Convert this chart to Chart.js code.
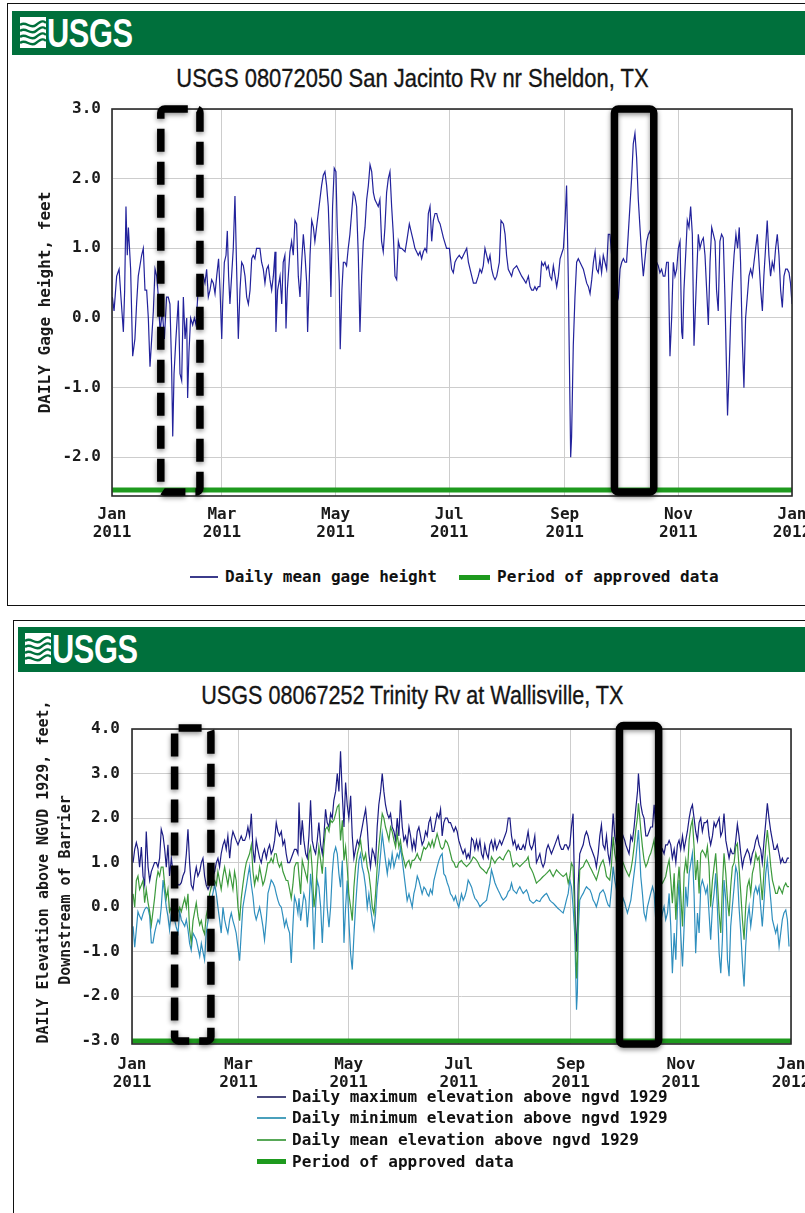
<!DOCTYPE html>
<html><head><meta charset="utf-8">
<script src="https://cdn.jsdelivr.net/npm/chart.js@4.4.0/dist/chart.umd.min.js"></script>
<style>
html,body{margin:0;padding:0;background:#fff}
body{width:805px;height:1213px;position:relative;overflow:hidden}
.frame{position:absolute;border:1.5px solid #111;box-sizing:border-box}
.hdr{position:absolute;background:#00703c}
.logo{position:absolute;height:40px;white-space:nowrap}
.logo .txt{position:absolute;left:27px;top:0;font:bold 40px/40px "Liberation Sans",Arial,sans-serif;color:#fff;transform:scaleX(0.77);transform-origin:0 0;letter-spacing:-0.5px}
.title{position:absolute;left:0;width:825px;text-align:center;font:26px/30px "Liberation Sans",Arial,sans-serif;color:#151515;-webkit-text-stroke:0.35px #151515}
.title span{display:inline-block;transform:scaleX(0.845)}
.cw{position:absolute;left:0}
.leg{position:absolute;font:bold 16px/20px "DejaVu Sans Mono",monospace;color:#111;white-space:pre}
.sw{position:absolute}
.ytl{position:absolute;width:420px;height:20px;text-align:center;font:bold 15px/20px "DejaVu Sans Mono",monospace;color:#1a1a1a;transform:rotate(-90deg);white-space:pre}
</style></head>
<body>
<div class="frame" style="left:7px;top:3px;width:820px;height:603px"></div>
<div class="hdr" style="left:12px;top:11px;width:800px;height:44px"></div>
<div class="logo" style="left:20px;top:13px">
 <svg width="26" height="34" viewBox="0 0 26 34" style="position:absolute;left:0;top:4px">
  <rect x="0" y="0" width="26" height="31" fill="#fff"/>
  <path d="M0 8 C6 3,10 13,16 8 S24 4,26 6" stroke="#00703c" stroke-width="2.4" fill="none"/>
  <path d="M0 14 C6 9,10 19,16 14 S24 10,26 12" stroke="#00703c" stroke-width="2.4" fill="none"/>
  <path d="M0 20 C6 15,10 25,16 20 S24 16,26 18" stroke="#00703c" stroke-width="2.4" fill="none"/>
  <path d="M0 26 C6 21,10 31,16 26 S24 22,26 24" stroke="#00703c" stroke-width="2.4" fill="none"/>
 </svg>
 <div class="txt">USGS</div>
</div>
<div class="title" style="top:63px"><span>USGS 08072050 San Jacinto Rv nr Sheldon, TX</span></div>
<div class="cw" style="top:100px"><canvas id="c1" width="805" height="455"></canvas></div>
<div class="sw" style="left:190px;top:576px;width:28px;height:1.5px;background:#3b3b8b"></div>
<div class="leg" style="left:225px;top:567px">Daily mean gage height</div>
<div class="sw" style="left:459px;top:575px;width:31px;height:5px;background:#1e9a1e"></div>
<div class="leg" style="left:497px;top:567px">Period of approved data</div>

<div class="frame" style="left:13px;top:620px;width:820px;height:620px"></div>
<div class="hdr" style="left:18px;top:627px;width:800px;height:45px"></div>
<div class="logo" style="left:25px;top:629px">
 <svg width="26" height="34" viewBox="0 0 26 34" style="position:absolute;left:0;top:4px">
  <rect x="0" y="0" width="26" height="31" fill="#fff"/>
  <path d="M0 8 C6 3,10 13,16 8 S24 4,26 6" stroke="#00703c" stroke-width="2.4" fill="none"/>
  <path d="M0 14 C6 9,10 19,16 14 S24 10,26 12" stroke="#00703c" stroke-width="2.4" fill="none"/>
  <path d="M0 20 C6 15,10 25,16 20 S24 16,26 18" stroke="#00703c" stroke-width="2.4" fill="none"/>
  <path d="M0 26 C6 21,10 31,16 26 S24 22,26 24" stroke="#00703c" stroke-width="2.4" fill="none"/>
 </svg>
 <div class="txt">USGS</div>
</div>
<div class="title" style="top:680px"><span style="transform:scaleX(0.83)">USGS 08067252 Trinity Rv at Wallisville, TX</span></div>
<div class="cw" style="top:720px"><canvas id="c2" width="805" height="390"></canvas></div>
<div class="ytl" style="left:-167px;top:862px">DAILY Elevation above NGVD 1929, feet,</div>
<div class="ytl" style="left:-145px;top:880px">Downstream of Barrier</div>
<div class="sw" style="left:257px;top:1096px;width:29px;height:1.5px;background:#4a4a7e"></div>
<div class="leg" style="left:292px;top:1087px">Daily maximum elevation above ngvd 1929</div>
<div class="sw" style="left:257px;top:1117px;width:29px;height:1.5px;background:#4aa0bc"></div>
<div class="leg" style="left:292px;top:1108px">Daily minimum elevation above ngvd 1929</div>
<div class="sw" style="left:257px;top:1139px;width:29px;height:1.5px;background:#58a858"></div>
<div class="leg" style="left:292px;top:1130px">Daily mean elevation above ngvd 1929</div>
<div class="sw" style="left:257px;top:1159px;width:29px;height:5px;background:#1e9a1e"></div>
<div class="leg" style="left:292px;top:1152px">Period of approved data</div>

<script>
// ---------- shared axis data ----------
const monthTicks = [0, 59, 120, 181, 243, 304, 365];
const monthNames = ['Jan', 'Mar', 'May', 'Jul', 'Sep', 'Nov', 'Jan'];
const tickYears  = ['2011', '2011', '2011', '2011', '2011', '2011', '2012'];
const yTicks1 = [-2, -1, 0, 1, 2, 3];
const yTicks2 = [-3, -2, -1, 0, 1, 2, 3, 4];

// ---------- chart 1: San Jacinto daily mean gage height (day of 2011, feet) ----------
const days1 = [0.2,1.1,2.5,3.8,4.8,6.1,6.8,7.5,8.2,8.8,10.0,11.1,12.3,13.2,14.1,15.0,15.9,16.8,17.7,18.6,19.5,20.4,21.3,22.2,23.1,24.0,24.9,25.8,27.0,28.1,29.3,30.2,31.1,32.0,32.6,33.3,34.3,35.6,36.5,37.4,38.3,39.2,40.1,40.6,41.3,42.2,43.3,44.2,45.1,46.0,47.2,48.1,49.0,49.9,50.8,51.7,52.6,53.5,54.4,55.3,56.2,57.2,58.0,58.9,59.4,60.3,61.2,61.9,62.6,63.3,64.2,65.1,66.0,66.9,67.8,68.7,69.6,70.5,71.4,72.3,73.2,74.1,75.0,75.8,76.7,77.6,79.4,80.3,81.2,82.1,83.0,83.9,84.8,85.7,86.6,87.5,88.0,88.9,90.2,91.1,91.9,92.8,93.4,94.1,95.5,96.4,97.3,98.2,99.1,100.0,100.9,101.8,102.7,103.6,104.5,105.0,106.3,107.2,108.1,108.9,109.8,110.7,111.6,112.5,113.4,114.3,115.2,116.1,117.0,117.5,118.4,119.3,120.2,120.9,122.0,122.5,123.4,124.2,125.0,125.9,126.8,127.7,128.6,129.5,130.4,131.3,132.2,133.1,134.0,134.9,135.8,136.7,137.6,138.5,139.4,140.3,141.1,142.0,142.9,143.8,144.7,145.6,146.5,147.4,148.3,149.2,150.1,151.0,151.9,152.8,153.7,154.6,155.5,157.3,158.2,159.6,160.9,161.8,162.6,163.5,164.4,165.3,166.2,167.1,168.0,168.9,169.8,170.7,171.6,172.5,173.4,174.3,175.2,176.1,177.0,177.9,179.6,181.1,182.3,183.2,184.1,185.0,186.4,187.7,188.6,189.5,190.4,191.3,192.2,193.1,194.0,195.4,196.6,197.5,198.4,199.3,200.2,201.1,202.0,202.9,203.8,204.7,205.6,206.5,207.9,208.8,210.1,211.0,211.8,212.7,213.6,214.5,215.4,217.2,218.1,219.0,219.9,221.1,222.2,223.5,224.4,225.3,226.2,227.0,227.9,228.8,229.7,230.6,231.5,232.4,233.3,234.2,235.1,236.0,236.9,237.8,238.7,239.6,240.5,241.7,242.3,243.2,244.0,244.9,245.5,246.2,246.7,247.6,248.5,249.4,250.3,251.2,252.1,253.0,253.9,254.8,255.7,256.6,257.5,258.4,259.3,260.1,261.0,261.9,262.8,263.7,264.6,265.5,266.4,267.3,269.1,271.8,272.7,273.6,274.5,275.4,276.2,277.1,278.0,278.9,279.8,280.7,281.6,282.5,283.4,284.3,285.2,286.1,287.0,287.9,288.8,290.6,293.2,294.1,295.0,295.9,296.8,297.7,298.6,299.5,300.4,301.3,302.2,303.1,304.0,304.9,305.8,306.3,307.0,308.1,308.8,309.7,310.6,311.5,312.4,313.1,313.8,314.7,315.6,316.5,317.4,318.3,319.2,320.1,321.0,321.9,322.8,323.7,324.5,325.4,326.3,327.2,328.1,329.0,329.9,330.4,331.2,332.1,333.0,333.9,334.9,335.8,336.7,337.4,338.3,339.2,340.1,341.0,341.9,342.8,343.7,344.6,345.5,346.4,347.3,348.2,349.1,349.9,350.8,351.7,352.6,353.5,354.4,355.3,356.2,357.1,358.0,358.9,359.8,360.7,361.6,362.5,363.4,364.2,365.0];
const gage1 = [0.3,0.1,0.6,0.7,0.3,-0.2,0.4,1.6,0.9,1.3,0.7,-0.55,-0.3,0.2,0.6,0.75,0.9,1.0,0.4,0.4,0.0,-0.7,-0.3,0.1,0.7,0.6,0.3,-0.2,0.1,-0.3,0.3,0.3,0.2,-0.7,-1.7,-0.8,-0.3,0.25,-0.8,-0.9,0.3,-0.3,0.0,-1.15,-0.5,0.0,-0.1,0.0,-0.1,0.3,0.5,0.6,0.6,0.5,0.7,0.3,0.4,0.55,0.5,0.35,0.6,0.85,0.4,-0.3,0.2,0.8,0.9,1.25,0.6,0.2,0.6,1.0,1.75,0.7,-0.3,0.4,0.8,0.75,0.6,0.3,0.2,0.4,0.85,0.9,0.85,1.0,1.0,0.8,0.7,0.5,0.7,0.75,0.55,0.4,0.6,0.95,-0.2,0.4,0.6,0.2,0.8,0.9,-0.15,0.4,0.95,1.1,0.9,1.4,1.35,0.6,0.3,0.8,1.2,0.9,0.5,-0.2,0.9,1.4,1.3,1.1,1.3,1.5,1.7,1.9,2.05,2.1,1.9,1.6,0.9,0.3,1.6,2.15,2.1,1.3,0.5,-0.45,0.4,0.8,0.8,0.75,1.0,1.2,1.5,1.8,1.75,1.6,0.9,-0.2,0.6,1.1,1.3,1.7,1.9,2.2,2.1,1.8,1.7,1.65,1.6,1.7,1.1,0.95,1.3,1.8,2.0,2.1,1.6,1.2,0.6,0.55,1.1,1.0,1.0,0.95,1.1,1.35,1.2,1.1,1.0,0.95,0.9,0.95,0.85,0.95,1.0,0.95,1.5,1.6,1.1,1.4,1.5,1.5,1.4,1.35,1.25,1.15,1.0,1.0,0.7,0.65,0.8,0.85,0.9,0.85,0.9,0.95,1.0,0.8,0.7,0.6,0.5,0.5,0.6,0.7,0.65,0.75,1.0,0.9,0.8,0.9,0.7,0.6,0.55,0.6,0.8,1.4,1.35,1.2,0.9,0.7,0.65,0.6,0.7,0.75,0.7,0.65,0.6,0.55,0.5,0.6,0.45,0.4,0.4,0.45,0.4,0.45,0.45,0.8,0.75,0.8,0.7,0.75,0.6,0.55,0.75,0.6,0.45,0.6,0.85,0.95,1.0,1.4,1.9,0.6,-0.6,-2.0,-1.7,-0.4,0.3,0.8,0.85,0.8,0.75,0.7,0.6,0.5,0.45,0.35,0.55,0.8,0.95,0.7,0.65,0.85,0.65,0.9,0.8,0.7,1.2,1.2,0.6,0.3,0.7,0.8,0.85,0.8,0.8,1.2,1.6,2.0,2.5,2.65,2.3,1.7,1.3,0.9,0.6,0.85,1.1,1.2,1.25,0.9,0.75,0.65,0.7,0.6,0.6,0.8,0.8,-0.55,0.0,0.8,0.6,0.7,1.0,1.1,-0.2,-0.3,0.4,1.0,1.4,1.3,1.6,1.2,-0.4,0.1,0.6,1.2,1.0,1.1,1.15,0.9,0.4,-0.1,0.8,1.3,1.2,1.1,0.4,0.1,1.1,1.2,1.15,0.3,-0.8,-1.4,-0.8,0.0,0.5,0.9,1.2,1.0,1.3,0.8,-0.3,-1.0,0.0,0.3,0.6,0.7,0.6,0.8,1.0,1.2,0.8,0.4,0.1,0.6,1.0,1.4,0.9,0.6,0.8,0.7,1.0,1.2,0.9,0.4,0.15,0.6,0.7,0.7,0.65,0.5,0.2];
const approvedLevel1 = -2.47;
const boxFrom1 = [26.2, 269.7];
const boxTo1 = [47.2, 290.8];
const boxTop1 = [3.0, 3.0];
const boxBottom1 = [-2.5, -2.5];
const boxDashed = [true, false];

// ---------- chart 2: Trinity Rv at Wallisville (day of 2011, feet above NGVD 1929) ----------
const days2 = [0.6,1.5,2.4,3.3,4.2,5.2,6.1,7.0,7.9,8.9,9.8,10.7,11.6,12.5,13.5,14.4,15.3,16.2,17.2,18.1,19.0,19.9,20.8,21.8,22.7,23.6,24.5,25.5,26.4,27.3,28.2,29.2,30.1,31.0,31.9,32.8,33.8,34.7,35.6,36.5,37.5,38.4,39.3,40.2,41.1,42.1,43.0,43.9,44.8,45.8,46.7,47.6,48.5,49.4,50.4,51.3,52.2,53.1,54.1,55.0,55.9,56.8,57.7,58.7,59.6,60.5,61.4,62.4,63.3,64.2,65.1,66.1,67.0,67.9,68.8,69.7,70.7,71.6,72.5,73.4,74.4,75.3,76.2,77.1,78.1,79.0,79.9,80.8,81.7,82.7,83.6,84.5,85.4,86.3,87.3,88.2,89.1,90.0,91.0,91.9,
92.5,93.4,94.3,95.2,96.2,97.1,98.0,98.9,99.8,100.8,101.7,102.6,103.5,104.5,105.4,106.3,107.2,108.1,109.1,110.0,110.9,111.8,112.8,113.7,114.6,115.5,116.5,117.4,118.3,119.2,120.1,121.1,122.0,122.9,123.8,124.8,125.7,126.6,127.5,128.4,129.4,130.3,131.2,132.1,133.1,134.0,134.9,135.8,136.7,137.7,138.6,139.5,140.4,141.4,142.3,143.2,144.1,145.1,146.0,146.9,147.8,148.7,149.7,150.6,151.5,152.4,153.4,154.3,155.2,156.1,157.0,158.0,158.9,159.8,160.7,161.7,162.6,163.5,164.4,165.3,166.3,167.2,168.1,169.0,170.0,170.9,171.8,172.7,173.6,174.6,175.5,176.4,177.3,178.3,179.2,180.1,181.0,
182.5,183.4,184.4,185.3,186.2,187.1,188.1,189.0,189.9,190.8,191.7,192.7,193.6,194.5,195.4,196.4,197.3,198.2,199.1,200.1,201.0,201.9,202.8,203.7,204.7,205.6,206.5,207.4,208.4,209.3,210.2,211.1,212.0,213.0,213.9,214.8,215.7,216.7,217.6,218.5,219.4,220.3,221.3,222.2,223.1,224.0,225.0,225.9,226.8,227.7,228.6,229.6,230.5,231.4,232.3,233.3,234.2,235.1,236.0,236.9,237.9,238.8,239.7,240.6,241.6,242.5,243.4,244.3,245.3,246.2,246.7,247.1,248.0,248.9,249.9,250.8,251.7,252.6,253.6,254.5,255.4,256.3,257.2,258.2,259.1,260.0,260.9,261.9,262.8,263.7,264.6,265.5,266.5,
267.4,268.3,269.3,270.2,271.1,272.0,272.9,
273.5,274.4,275.3,276.3,277.2,278.1,279.0,280.0,280.5,281.2,281.8,282.7,283.6,284.6,285.5,286.4,287.3,288.3,289.2,290.1,291.0,292.0,292.9,293.8,294.7,295.6,296.6,297.5,298.4,299.3,300.3,301.2,302.1,303.0,303.9,304.9,305.8,306.7,307.6,308.6,309.5,310.4,311.3,312.2,313.2,314.1,315.0,315.9,316.9,317.8,318.7,319.6,320.5,321.5,322.4,323.3,324.2,325.2,326.1,327.0,327.9,328.9,329.8,330.7,331.6,332.5,333.5,334.4,335.3,336.2,337.2,338.1,339.0,339.9,340.8,341.8,342.7,343.6,344.5,345.5,346.4,347.3,348.2,349.1,350.1,351.0,351.9,352.8,353.8,354.7,355.6,356.5,357.4,358.4,359.3,360.2,361.1,362.1,363.0,363.9];
const maxElev2 = [1.0,1.3,1.45,1.3,0.9,1.35,0.7,0.5,1.7,0.9,0.6,0.8,0.9,1.0,1.0,0.9,1.1,1.75,1.6,1.3,0.9,1.4,0.7,1.1,0.8,0.5,0.6,0.5,0.5,0.55,0.7,0.8,1.2,1.75,1.0,0.5,0.4,0.7,0.9,0.7,0.8,1.0,1.1,0.7,0.5,0.4,0.5,0.6,0.7,0.8,1.0,1.1,0.9,1.2,1.4,1.5,1.3,1.6,1.1,1.5,1.7,1.6,1.5,1.4,1.5,1.6,1.5,1.5,1.6,1.8,1.6,2.1,1.3,1.0,1.5,1.3,1.1,1.0,1.2,1.3,1.1,1.3,1.4,1.2,1.3,1.5,1.9,1.7,1.6,1.7,1.4,1.5,1.2,1.0,1.0,1.1,1.2,1.3,1.3,1.2,
2.35,1.4,1.95,1.5,1.2,1.1,1.6,2.4,1.5,1.3,1.2,1.5,1.9,1.4,1.2,1.6,2.2,1.9,1.8,2.1,2.0,2.4,2.6,3.0,2.6,3.5,2.5,1.8,2.8,2.3,2.0,2.5,1.6,1.1,1.3,1.5,1.4,1.6,1.8,2.0,2.2,1.8,1.2,0.9,1.3,1.2,1.0,1.8,2.3,2.6,3.0,2.6,2.3,2.1,2.0,2.1,1.8,1.7,1.5,2.0,1.6,2.4,1.8,1.5,1.6,1.4,1.8,1.6,1.3,1.5,1.3,1.7,1.8,1.6,1.4,1.5,1.7,1.6,1.9,2.0,1.7,1.7,1.9,2.1,2.0,2.2,1.6,1.9,2.0,2.0,1.9,1.9,1.8,1.7,1.8,1.7,1.5,
1.3,1.2,1.3,1.1,1.2,1.1,1.55,1.5,1.3,1.5,1.3,1.5,1.2,1.1,1.4,1.2,1.1,1.4,1.5,1.3,1.5,1.3,1.4,1.5,1.4,1.5,1.6,1.7,2.0,2.0,1.6,1.4,1.5,1.3,1.4,1.3,1.3,1.4,1.3,1.5,1.7,1.4,1.3,1.4,1.6,1.0,1.1,1.2,1.0,0.9,1.0,1.3,1.4,1.3,1.2,1.3,1.4,1.5,1.6,1.4,1.3,1.3,1.4,1.4,1.3,1.4,1.8,2.1,0.0,-1.0,-0.4,0.5,1.2,1.3,1.4,1.6,1.7,1.6,1.4,1.3,1.2,1.1,0.9,1.2,1.6,1.85,1.4,1.3,1.6,1.2,1.0,1.4,2.1,
1.6,1.4,1.2,1.3,1.5,1.6,1.5,
1.4,1.3,1.2,1.6,1.5,1.8,2.2,2.6,3.0,2.6,2.3,2.1,2.0,1.6,1.6,1.7,1.8,1.8,2.3,1.8,1.4,1.0,1.2,1.3,1.2,1.4,1.4,1.5,1.4,1.1,1.3,1.0,1.4,1.5,1.3,1.6,1.3,1.5,1.7,2.0,2.2,2.3,2.0,1.7,1.5,1.9,2.0,1.7,1.9,1.9,1.95,1.6,1.4,1.6,1.9,1.8,1.9,2.0,1.6,1.7,2.1,1.5,1.3,1.1,1.3,1.2,1.2,1.5,1.86,1.6,1.2,0.9,1.1,1.2,1.3,1.2,1.0,1.2,1.3,1.5,1.6,1.4,1.3,1.0,1.5,1.9,2.33,2.0,1.7,1.5,1.3,1.3,1.4,1.2,1.0,1.1,1.0,1.0,1.1,1.1];
const minElev2 = [-0.43,-0.9,-0.5,-0.1,-0.2,-0.28,-0.15,-0.05,0.0,-0.03,-0.2,-0.8,-0.8,-0.58,-0.4,-0.28,-0.36,0.0,0.61,0.31,0.0,-0.2,-0.51,-0.1,-0.2,-0.28,-0.45,-0.58,-0.1,-0.28,-0.35,-0.43,-0.28,-0.5,-0.81,-0.96,-0.58,-0.65,-0.73,-0.9,-1.1,-0.81,-1.0,-1.18,-0.58,-0.3,0.0,0.15,0.31,0.5,0.3,0.0,-0.28,-0.58,0.0,-0.28,-0.45,-0.58,-0.28,-0.13,-0.3,-0.43,-0.58,-0.9,-1.2,-0.58,0.0,0.25,0.46,0.7,0.91,0.5,0.24,-0.13,-0.28,-0.15,0.0,-0.2,-0.43,-0.73,-0.28,0.31,0.45,0.61,0.55,0.46,0.3,0.16,0.05,0.0,-0.2,-0.43,-0.28,-0.45,-0.58,-1.25,-0.43,0.24,0.1,-0.13,
0.2,-0.3,0.0,0.3,0.15,-0.45,0.0,0.75,0.3,-0.95,0.0,0.6,0.45,0.0,-0.8,0.0,0.9,0.0,-0.45,0.0,0.75,1.2,1.35,1.2,0.75,0.45,1.05,-0.8,0.0,0.6,-0.3,-1.05,-1.4,-0.65,0.0,0.6,1.05,1.2,0.9,0.75,0.45,0.0,0.3,0.0,-0.3,-0.5,-0.15,0.45,0.75,1.2,1.65,1.35,1.05,0.75,1.05,0.9,1.2,0.9,1.05,1.2,1.1,1.35,1.05,0.75,0.45,0.15,0.3,0.15,0.0,0.3,0.45,0.7,0.6,0.45,0.3,0.45,0.4,0.3,0.25,0.4,0.3,0.6,0.75,0.9,1.05,1.15,1.2,0.75,0.7,0.55,0.45,0.3,0.25,0.15,0.25,0.1,0.0,
0.3,0.16,0.25,0.39,0.61,0.54,0.45,0.31,0.2,0.16,0.1,0.01,0.05,0.09,0.12,0.16,0.35,0.54,0.84,0.69,0.55,0.46,0.38,0.31,0.22,0.16,0.2,0.24,0.35,0.39,0.54,0.39,0.35,0.31,0.4,0.46,0.38,0.31,0.35,0.39,0.3,0.16,0.12,0.09,0.12,0.16,0.14,0.13,0.2,0.24,0.28,0.31,0.24,0.16,0.12,0.09,0.05,0.01,-0.03,-0.06,-0.1,-0.13,0.0,0.16,0.31,0.61,0.46,0.01,-0.66,-2.3,-1.9,-0.6,0.16,0.24,0.31,0.39,0.46,0.42,0.39,0.3,0.16,0.1,0.01,0.16,0.31,0.35,0.39,0.3,0.16,0.05,0.01,0.39,0.91,
0.6,0.4,0.1,-0.2,0.0,0.2,0.1,
0.0,-0.13,0.0,0.16,0.46,0.76,1.06,1.51,1.73,1.21,0.69,0.31,-0.13,-0.28,0.01,0.16,0.31,0.46,0.31,-0.3,-1.2,-0.9,-0.3,-0.13,0.01,-0.28,-0.13,0.31,-0.43,-1.48,-0.58,-1.18,0.01,0.61,-0.58,-1.33,-0.43,0.46,0.01,0.76,0.99,1.21,0.31,-1.03,-0.13,-0.58,0.46,0.61,0.46,0.31,0.46,-0.13,-0.73,0.01,0.31,0.76,0.01,-1.03,-1.48,-0.73,0.61,0.16,-1.18,-1.55,-0.43,0.01,0.46,0.91,0.76,0.01,-0.58,-1.25,-1.78,-0.88,-0.28,0.01,-0.43,-0.13,0.31,0.46,0.31,0.46,0.01,-0.43,0.16,0.76,1.06,0.61,0.16,-0.28,-0.43,-0.58,-0.43,-0.88,-0.58,-0.28,-0.13,-0.06,-0.28,-0.88];
const meanElev2 = [0.3,0.0,0.6,0.7,0.4,0.5,0.6,0.1,0.4,0.1,-0.1,-0.4,-0.1,0.2,0.6,0.8,0.7,0.9,0.9,0.5,0.2,0.4,-0.1,0.0,0.05,0.1,0.0,-0.1,0.0,-0.1,0.05,0.2,0.0,0.3,-0.5,-0.8,-0.3,-0.1,0.1,-0.2,-0.4,-0.3,-0.5,-0.6,-0.2,0.0,0.3,0.45,0.55,0.6,0.5,0.8,0.6,0.4,0.7,0.9,0.7,0.5,0.8,0.6,0.4,0.8,0.6,0.0,-0.3,0.2,0.5,0.8,1.0,1.1,1.2,1.4,0.8,0.5,0.7,0.6,0.9,0.7,0.5,0.6,0.8,1.0,1.0,1.1,1.0,1.2,1.2,1.0,0.9,1.0,0.8,0.7,0.6,0.6,0.4,0.2,0.5,0.9,1.0,1.0,
0.7,0.3,1.05,0.9,0.75,0.6,1.2,1.35,0.85,0.0,0.3,0.9,1.35,1.05,0.75,1.35,1.75,1.8,1.7,1.95,1.9,1.95,2.1,2.25,2.3,1.5,1.95,1.05,1.35,0.9,0.3,0.0,-0.3,0.45,0.9,1.2,1.35,1.5,1.2,1.05,1.2,0.9,0.75,0.45,0.0,-0.15,0.3,0.9,1.35,1.75,2.1,2.0,1.8,1.65,1.5,1.8,1.7,1.5,1.35,1.65,1.35,1.5,1.2,1.05,0.9,1.0,1.05,0.9,1.05,1.05,1.1,1.2,1.1,1.05,1.2,1.35,1.3,1.35,1.45,1.35,1.5,1.35,1.5,1.65,1.5,1.35,1.3,1.35,1.5,1.45,1.35,1.2,1.05,1.0,0.9,0.9,1.0,
1.05,0.99,0.95,0.91,0.95,0.99,1.05,1.13,1.1,1.06,1.0,0.91,0.87,0.84,0.8,0.76,0.85,0.91,1.13,1.06,0.99,1.06,1.1,1.13,1.08,1.06,1.15,1.21,1.28,1.25,1.06,0.91,0.95,0.99,0.95,0.91,0.95,0.99,1.03,1.06,1.13,0.91,0.84,0.76,0.65,0.54,0.58,0.61,0.65,0.69,0.72,0.76,0.8,0.84,0.76,0.69,0.76,0.84,0.8,0.76,0.72,0.69,0.72,0.76,0.54,0.69,0.99,0.91,-0.28,-1.6,-1.2,-0.2,0.84,0.88,0.91,1.0,1.06,1.0,0.91,0.84,0.76,0.69,0.61,0.76,0.91,1.0,1.06,0.9,0.69,0.65,0.61,0.91,1.58,
1.2,1.0,0.8,0.75,0.9,1.0,0.9,
0.84,0.76,0.69,0.84,1.06,1.36,1.73,2.03,2.33,2.03,1.73,1.36,1.06,0.91,0.99,1.13,1.21,1.36,1.51,1.0,0.5,0.2,0.6,0.54,0.61,0.69,0.91,1.06,0.61,0.09,0.76,-0.28,0.46,0.91,0.31,-0.43,0.76,1.06,0.76,1.51,1.81,1.96,1.36,0.61,1.06,0.31,1.21,1.28,1.21,1.13,1.36,0.91,0.01,0.61,0.91,1.21,0.61,-0.13,-0.58,0.46,1.21,0.76,0.16,-0.2,0.46,0.9,1.0,1.36,1.43,0.91,0.31,-0.28,-0.73,0.01,0.46,0.61,0.31,0.76,0.91,1.21,1.06,1.13,0.61,0.16,0.84,1.36,1.73,1.36,0.91,0.61,0.46,0.31,0.31,0.46,0.39,0.31,0.46,0.54,0.46,0.46];
const approvedLevel2 = -3.0;
const boxFrom2 = [23.6, 270.0];
const boxTo2 = [43.7, 291.7];
const boxTop2 = [4.02, 4.08];
const boxBottom2 = [-3.0, -3.07];

// ---------- helpers ----------
const monoFont = {family: '"DejaVu Sans Mono", monospace', size: 16, weight: 'bold', lineHeight: 1.1};
const gridColor = '#cdcdcd';
function pts(xs, ys) { return xs.map((x, i) => ({x: x, y: ys[i]})); }

const overlayPlugin = {
  id: 'overlay',
  afterDraw(chart, args, opts) {
    const {ctx, chartArea: a} = chart;
    const xs = chart.scales.x, ys = chart.scales.y;
    ctx.save();
    ctx.strokeStyle = '#2a2a2a';
    ctx.lineWidth = 1.6;
    ctx.strokeRect(a.left, a.top, a.right - a.left, a.bottom - a.top);
    opts.from.forEach((f, i) => {
      const x0 = xs.getPixelForValue(f), x1 = xs.getPixelForValue(opts.to[i]);
      const y0 = ys.getPixelForValue(opts.top[i]), y1 = ys.getPixelForValue(opts.bottom[i]);
      ctx.save();
      ctx.shadowColor = 'rgba(0,0,0,0.45)';
      ctx.shadowBlur = 5;
      ctx.shadowOffsetY = 2;
      ctx.strokeStyle = '#000';
      ctx.lineWidth = 7.5;
      ctx.lineJoin = 'round';
      ctx.setLineDash(opts.dashed[i] ? [23, 10] : []);
      ctx.beginPath();
      ctx.roundRect(x0, y0, x1 - x0, y1 - y0, 4);
      ctx.stroke();
      ctx.restore();
    });
    ctx.restore();
  }
};

function xScale(axisHeight, pad) {
  return {
    type: 'linear', min: 0, max: 365,
    afterBuildTicks: s => { s.ticks = monthTicks.map(v => ({value: v})); },
    afterFit: s => { s.height = axisHeight; s.paddingLeft = 0; s.paddingRight = 0; },
    ticks: {autoSkip: false, maxRotation: 0, minRotation: 0, padding: pad, color: '#1a1a1a', font: monoFont,
      callback: v => { const i = monthTicks.indexOf(v); return [monthNames[i], tickYears[i]]; }},
    grid: {color: gridColor, lineWidth: 1, drawTicks: false},
    border: {display: false}
  };
}
function yScale(min, max, tickList, width, pad, title, titlePad) {
  return {
    min: min, max: max,
    afterBuildTicks: s => { s.ticks = tickList.map(v => ({value: v})); },
    afterFit: s => { s.width = width; s.paddingTop = 0; s.paddingBottom = 0; },
    ticks: {padding: pad, color: '#1a1a1a', font: monoFont, callback: v => v.toFixed(1)},
    grid: {color: gridColor, lineWidth: 1, drawTicks: false},
    border: {display: false},
    title: {display: !!title, text: title || '', color: '#1a1a1a',
      font: {family: monoFont.family, size: 16, weight: 'bold', lineHeight: 1.36},
      padding: {top: titlePad, bottom: 0}}
  };
}
const common = {
  responsive: false, animation: false, devicePixelRatio: 1,
  plugins: {legend: {display: false}, tooltip: {enabled: false}},
  elements: {point: {radius: 0}, line: {tension: 0}}
};

new Chart(document.getElementById('c1'), {
  type: 'line',
  data: {datasets: [
    {label: 'Daily mean gage height', data: pts(days1, gage1), borderColor: '#23239c', borderWidth: 1.2, order: 1},
    {label: 'Period of approved data', data: pts([0, 365], [approvedLevel1, approvedLevel1]), borderColor: '#1e9a1e', borderWidth: 5, order: 5}
  ]},
  options: Object.assign({}, common, {
    layout: {padding: {left: 0, right: 13, top: 9, bottom: 0}},
    scales: {
      x: xScale(59, 10),
      y: yScale(-2.556, 3.0, yTicks1, 112, 11, 'DAILY Gage height, feet', 35)
    },
    plugins: Object.assign({}, common.plugins, {overlay: {from: boxFrom1, to: boxTo1, top: boxTop1, bottom: boxBottom1, dashed: boxDashed}})
  }),
  plugins: [overlayPlugin]
});

new Chart(document.getElementById('c2'), {
  type: 'line',
  data: {datasets: [
    {label: 'Daily maximum elevation above ngvd 1929', data: pts(days2, maxElev2), borderColor: '#1c1c84', borderWidth: 1.2, order: 3},
    {label: 'Daily minimum elevation above ngvd 1929', data: pts(days2, minElev2), borderColor: '#2f8fbe', borderWidth: 1.2, order: 2},
    {label: 'Daily mean elevation above ngvd 1929', data: pts(days2, meanElev2), borderColor: '#3c9a3c', borderWidth: 1.2, order: 1},
    {label: 'Period of approved data', data: pts([0, 365], [approvedLevel2, approvedLevel2]), borderColor: '#1e9a1e', borderWidth: 5, order: 5}
  ]},
  options: Object.assign({}, common, {
    layout: {padding: {left: 0, right: 14, top: 9, bottom: 0}},
    scales: {
      x: xScale(66, 12),
      y: yScale(-3.07, 4.0, yTicks2, 132, 12, null, 0)
    },
    plugins: Object.assign({}, common.plugins, {overlay: {from: boxFrom2, to: boxTo2, top: boxTop2, bottom: boxBottom2, dashed: boxDashed}})
  }),
  plugins: [overlayPlugin]
});
</script>
</body></html>
